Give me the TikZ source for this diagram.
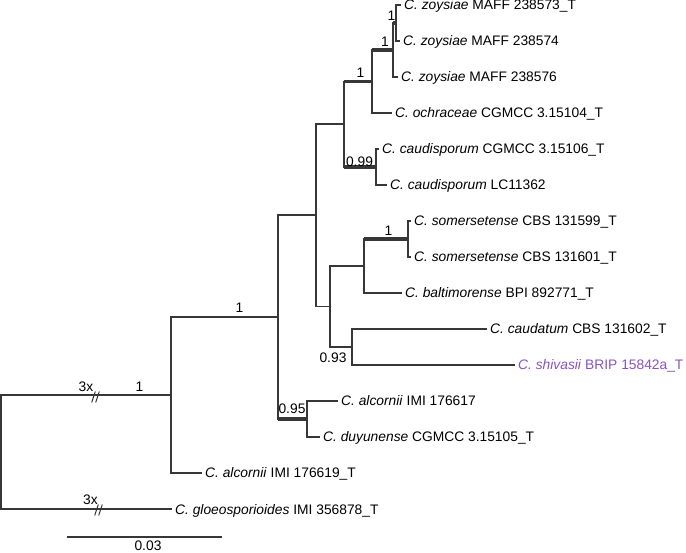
\documentclass[tikz,border=0pt]{standalone}
\usepackage{fontspec}
\setmainfont{Liberation Sans}
\definecolor{branch}{RGB}{55,55,55}
\definecolor{purp}{RGB}{137,82,190}
\begin{document}
\begin{tikzpicture}[x=1pt,y=-1pt,
  br/.style={draw=branch, line width=1.1pt},
  tb/.style={draw=branch, line width=3.4pt},
  brk/.style={draw=branch, line width=1pt},
  leaf/.style={anchor=base west, inner sep=0pt, xshift=3pt, yshift=-5pt, font=\fontsize{13.8}{16}\selectfont},
  supp/.style={anchor=base, inner sep=0pt, font=\fontsize{13.8}{16}\selectfont}]
\useasboundingbox (0,0) rectangle (686,553);
% internal nodes
\coordinate (root) at (1,452);
\coordinate (R1) at (171,395);
\coordinate (R2) at (278,317);
\coordinate (N95) at (307,419);
\coordinate (R3) at (316,215);
\coordinate (A) at (344,124);
\coordinate (Cd) at (376,167);
\coordinate (B) at (372,81.5);
\coordinate (C) at (393,50);
\coordinate (D) at (396,23);
\coordinate (E) at (330,306.5);
\coordinate (F) at (364,266);
\coordinate (H) at (408,239);
\coordinate (G) at (352,347);
% tips
\coordinate (t0) at (401,5);
\coordinate (t1) at (400,41);
\coordinate (t2) at (398,77);
\coordinate (t3) at (392,113);
\coordinate (t4) at (379,149);
\coordinate (t5) at (387,185);
\coordinate (t6) at (411,221);
\coordinate (t7) at (411,257);
\coordinate (t8) at (402,293);
\coordinate (t9) at (487,329);
\coordinate (t10) at (515,365);
\coordinate (t11) at (338,401);
\coordinate (t12) at (320,437);
\coordinate (t13) at (202,473);
\coordinate (t14) at (172,509);
% branches
\draw[br] (R1) -| (root) |- (t14);
\draw[br] (R2) -| (R1) |- (t13);
\draw[br] (R3) -| (R2) |- (N95);
\draw[br] (t11) -| (N95) |- (t12);
\draw[br] (A) -| (R3) |- (E);
\draw[br] (B) -| (A) |- (Cd);
\draw[br] (t4) -| (Cd) |- (t5);
\draw[br] (C) -| (B) |- (t3);
\draw[br] (D) -| (C) |- (t2);
\draw[br] (t0) -| (D) |- (t1);
\draw[br] (F) -| (E) |- (G);
\draw[br] (H) -| (F) |- (t8);
\draw[br] (t6) -| (H) |- (t7);
\draw[br] (t9) -| (G) |- (t10);
% thick branches
\draw[tb] (R2 |- N95) -- (N95);
\draw[tb] (A |- Cd) -- (Cd);
\draw[tb] (A |- B) -- (B);
\draw[tb] (B |- C) -- (C);
\draw[tb] (C |- D) -- (D);
\draw[tb] (F |- H) -- (H);
% breaks
\coordinate (brk1) at (95.5,397);
\coordinate (brk2) at (98.5,510);
\draw[brk] (brk1) ++(-3.8,5.5) -- ++(3.6,-11) (brk1) ++(0.2,5.5) -- ++(3.6,-11);
\draw[brk] (brk2) ++(-3.8,5.5) -- ++(3.6,-11) (brk2) ++(0.2,5.5) -- ++(3.6,-11);
\node[supp] (x1) at (86,392) {3x};
\node[supp] (x2) at (90.5,504.5) {3x};
% support values
\node[supp] (s1) at (139.5,392) {1};
\node[supp] (s2) at (239.5,313) {1};
\node[supp] (s3) at (292,413.5) {0.95};
\node[supp] (s4) at (359.5,166.5) {0.99};
\node[supp] (s5) at (333,363) {0.93};
\node[supp] (s6) at (360.5,78) {1};
\node[supp] (s7) at (385,47) {1};
\node[supp] (s8) at (391.5,21) {1};
\node[supp] (s9) at (388.5,235.5) {1};
% leaf labels
\node[leaf] (l0) at (t0) {\textit{C. zoysiae} MAFF 238573\_T};
\node[leaf] (l1) at (t1) {\textit{C. zoysiae} MAFF 238574};
\node[leaf] (l2) at (t2) {\textit{C. zoysiae} MAFF 238576};
\node[leaf] (l3) at (t3) {\textit{C. ochraceae} CGMCC 3.15104\_T};
\node[leaf] (l4) at (t4) {\textit{C. caudisporum} CGMCC 3.15106\_T};
\node[leaf] (l5) at (t5) {\textit{C. caudisporum} LC11362};
\node[leaf] (l6) at (t6) {\textit{C. somersetense} CBS 131599\_T};
\node[leaf] (l7) at (t7) {\textit{C. somersetense} CBS 131601\_T};
\node[leaf] (l8) at (t8) {\textit{C. baltimorense} BPI 892771\_T};
\node[leaf] (l9) at (t9) {\textit{C. caudatum} CBS 131602\_T};
\node[leaf, text=purp] (l10) at (t10) {\textit{C. shivasii} BRIP 15842a\_T};
\node[leaf] (l11) at (t11) {\textit{C. alcornii} IMI 176617};
\node[leaf] (l12) at (t12) {\textit{C. duyunense} CGMCC 3.15105\_T};
\node[leaf] (l13) at (t13) {\textit{C. alcornii} IMI 176619\_T};
\node[leaf] (l14) at (t14) {\textit{C. gloeosporioides} IMI 356878\_T};
% scale bar
\coordinate (sb1) at (67,537);
\coordinate (sb2) at (222,537);
\draw[br] (sb1) -- (sb2);
\node[supp] (sbl) at (148,550.5) {0.03};
\end{tikzpicture}
\end{document}
